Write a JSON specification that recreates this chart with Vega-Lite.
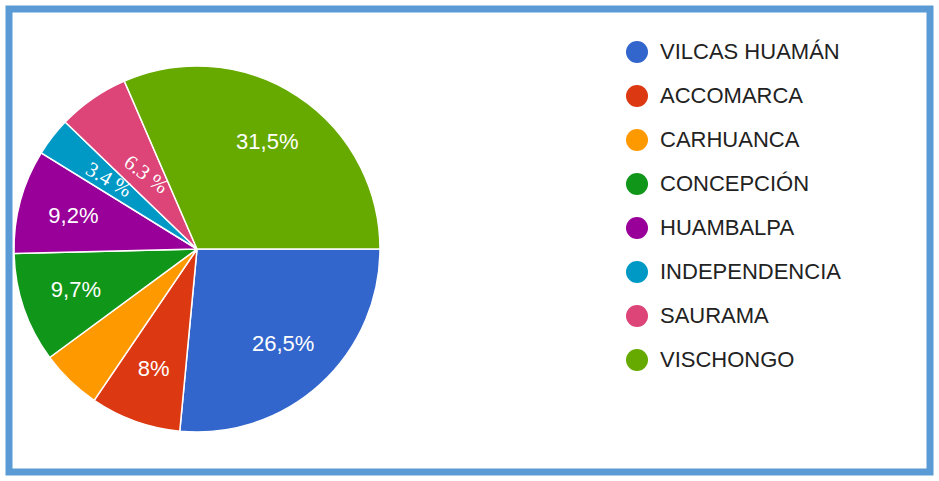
{
  "$schema": "https://vega.github.io/schema/vega-lite/v6.json",
  "autosize": {"type": "fit", "contains": "padding"},
  "width": 939,
  "height": 481,
  "padding": 9,
  "background": "white",
  "config": {
    "view": {"stroke": "#5B9BD5", "strokeWidth": 7},
    "font": "Liberation Sans"
  },
  "data": {
    "values": [
      {"idx": 1, "municipio": "VILCAS HUAMÁN", "pct": 26.5, "label": "26,5%"},
      {"idx": 2, "municipio": "ACCOMARCA", "pct": 8.0, "label": "8%"},
      {"idx": 3, "municipio": "CARHUANCA", "pct": 5.4, "label": ""},
      {"idx": 4, "municipio": "CONCEPCIÓN", "pct": 9.7, "label": "9,7%"},
      {"idx": 5, "municipio": "HUAMBALPA", "pct": 9.2, "label": "9,2%"},
      {"idx": 6, "municipio": "INDEPENDENCIA", "pct": 3.4, "label": ""},
      {"idx": 7, "municipio": "SAURAMA", "pct": 6.3, "label": ""},
      {"idx": 8, "municipio": "VISCHONGO", "pct": 31.5, "label": "31,5%"}
    ]
  },
  "encoding": {
    "theta": {"field": "pct", "type": "quantitative", "stack": true, "scale": {"range": [1.5708, 7.854]}},
    "order": {"field": "idx", "type": "quantitative"},
    "x": {"value": 188},
    "y": {"value": 240}
  },
  "layer": [
    {
      "mark": {"type": "arc", "outerRadius": 183, "stroke": "white", "strokeWidth": 1.5},
      "encoding": {
        "color": {
          "field": "municipio",
          "type": "nominal",
          "scale": {
            "domain": ["VILCAS HUAMÁN", "ACCOMARCA", "CARHUANCA", "CONCEPCIÓN", "HUAMBALPA", "INDEPENDENCIA", "SAURAMA", "VISCHONGO"],
            "range": ["#3366CC", "#DC3912", "#FF9900", "#109618", "#990099", "#0099C6", "#DD4477", "#66AA00"]
          },
          "legend": {
            "title": null,
            "orient": "none",
            "legendX": 617,
            "legendY": 32,
            "padding": 0,
            "symbolType": "circle",
            "symbolSize": 484,
            "symbolStrokeWidth": 0,
            "labelFont": "Liberation Sans",
            "labelFontSize": 22,
            "labelColor": "#222222",
            "labelOffset": 12,
            "rowPadding": 22,
            "labelLimit": 400
          }
        }
      }
    },
    {
      "mark": {"type": "text", "radius": 128, "fill": "white", "fontSize": 22, "font": "Liberation Sans"},
      "encoding": {"text": {"field": "label"}}
    },
    {
      "mark": {"type": "text", "radius": 90, "fill": "white", "fontSize": 21, "font": "Liberation Serif", "angle": 37},
      "encoding": {"text": {"condition": {"test": "datum.municipio === 'SAURAMA'", "value": "6.3 %"}, "value": ""}}
    },
    {
      "mark": {"type": "text", "radius": 112, "fill": "white", "fontSize": 21, "font": "Liberation Serif", "angle": 30},
      "encoding": {"text": {"condition": {"test": "datum.municipio === 'INDEPENDENCIA'", "value": "3.4 %"}, "value": ""}}
    }
  ]
}
